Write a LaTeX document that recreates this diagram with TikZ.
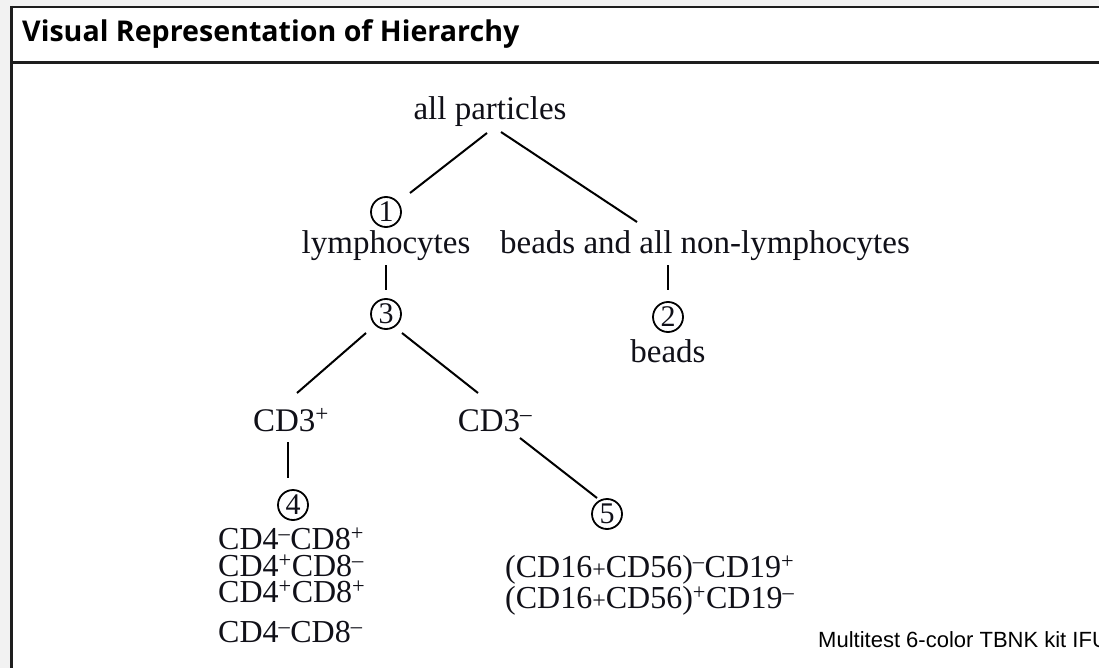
\documentclass[tikz,border=0pt]{standalone}
\usepackage{fontspec}
\setmainfont{Liberation Serif}
\newfontfamily\titlefont{Open Sans}
\newfontfamily\footfont{Liberation Sans}
\definecolor{bg}{HTML}{F2F2F2}
\definecolor{frame}{HTML}{1E1E1E}
\definecolor{ink}{HTML}{101018}
\newcommand\Sp{\textsuperscript{+}}
\newcommand\Sm{\textsuperscript{\textendash}}
\newcommand\Pl{{\fontsize{24}{24}\selectfont +}}
\begin{document}
\begin{tikzpicture}[x=1pt,y=-1pt,
  lbl/.style={font=\fontsize{33}{33}\selectfont, inner sep=0pt, anchor=base, text=ink,
              text height=21pt, text depth=5pt},
  lst/.style={font=\fontsize{32}{26.5}\selectfont, inner sep=0pt, anchor=base west, text=ink,
              align=left},
  num/.style={circle, draw, line width=1.8pt, minimum size=30pt, inner sep=0pt,
              font=\fontsize{30}{30}\selectfont, text=ink},
  edge/.style={line width=2pt}]
\useasboundingbox (0,0) rectangle (1099,668);
\clip (0,0) rectangle (1099,668);
% frame
\fill[bg] (0,0) rectangle (1099,668);
\fill[white] (10,6) rectangle (1120,690);
\draw[line width=1.5pt, frame] (1120,6.8) -- (10,6.8);
\draw[line width=3pt, frame] (11.5,6) -- (11.5,690);
\draw[line width=3pt, frame] (10,62.5) -- (1120,62.5);
\node[anchor=base west, inner sep=0pt, font=\titlefont\bfseries\fontsize{28.6}{28.6}\selectfont] (title) at (22,42) {Visual Representation of Hierarchy};
% tree nodes
\node[lbl] (ap) at (490,120) {all particles};
\node[num] (c1) at (386,212) {1};
\node[lbl] (ly) at (386,253) {lymphocytes};
\node[lbl] (bn) at (705,253) {beads and all non-lymphocytes};
\node[num] (c3) at (386,314) {3};
\node[num] (c2) at (668,317) {2};
\node[lbl] (bd) at (668,362) {beads};
\node[lbl] (cdp) at (291,431) {CD3\Sp};
\node[lbl] (cdm) at (495,431) {CD3\Sm};
\node[num] (c4) at (293,505) {4};
\node[num] (c5) at (607,514) {5};
\node[lst, anchor=north west] (tl) at (218,528) {CD4\Sm CD8\Sp\\CD4\Sp CD8\Sm\\CD4\Sp CD8\Sp\\[13.5pt]CD4\Sm CD8\Sm};
\node[lst, anchor=north west] (nk) at (505,555) {(CD16\Pl CD56)\Sm CD19\Sp\\[1.5pt](CD16\Pl CD56)\Sp CD19\Sm};
\node[anchor=base west, inner sep=0pt, font=\footfont\fontsize{22}{22}\selectfont] (ft) at (818,647) {Multitest 6-color TBNK kit IFU};
% connectors
\draw[edge] ([shift={(-3,13)}]ap.base) -- ([shift={(24,-19)}]c1.center);
\draw[edge] ([shift={(11,12)}]ap.base) -- ([shift={(-68,-31)}]bn.base);
\draw[edge] ([shift={(0,12)}]ly.base) -- ([shift={(0,-24)}]c3.center);
\draw[edge] ([shift={(-37,12)}]bn.base) -- ([shift={(0,-27)}]c2.center);
\draw[edge] ([shift={(-20,19)}]c3.center) -- ([shift={(6,-38)}]cdp.base);
\draw[edge] ([shift={(16,19)}]c3.center) -- ([shift={(-17,-38)}]cdm.base);
\draw[edge] ([shift={(-3,11)}]cdp.base) -- ([shift={(-5,-27)}]c4.center);
\draw[edge] ([shift={(25,7)}]cdm.base) -- ([shift={(-10,-16)}]c5.center);
\end{tikzpicture}
\end{document}
